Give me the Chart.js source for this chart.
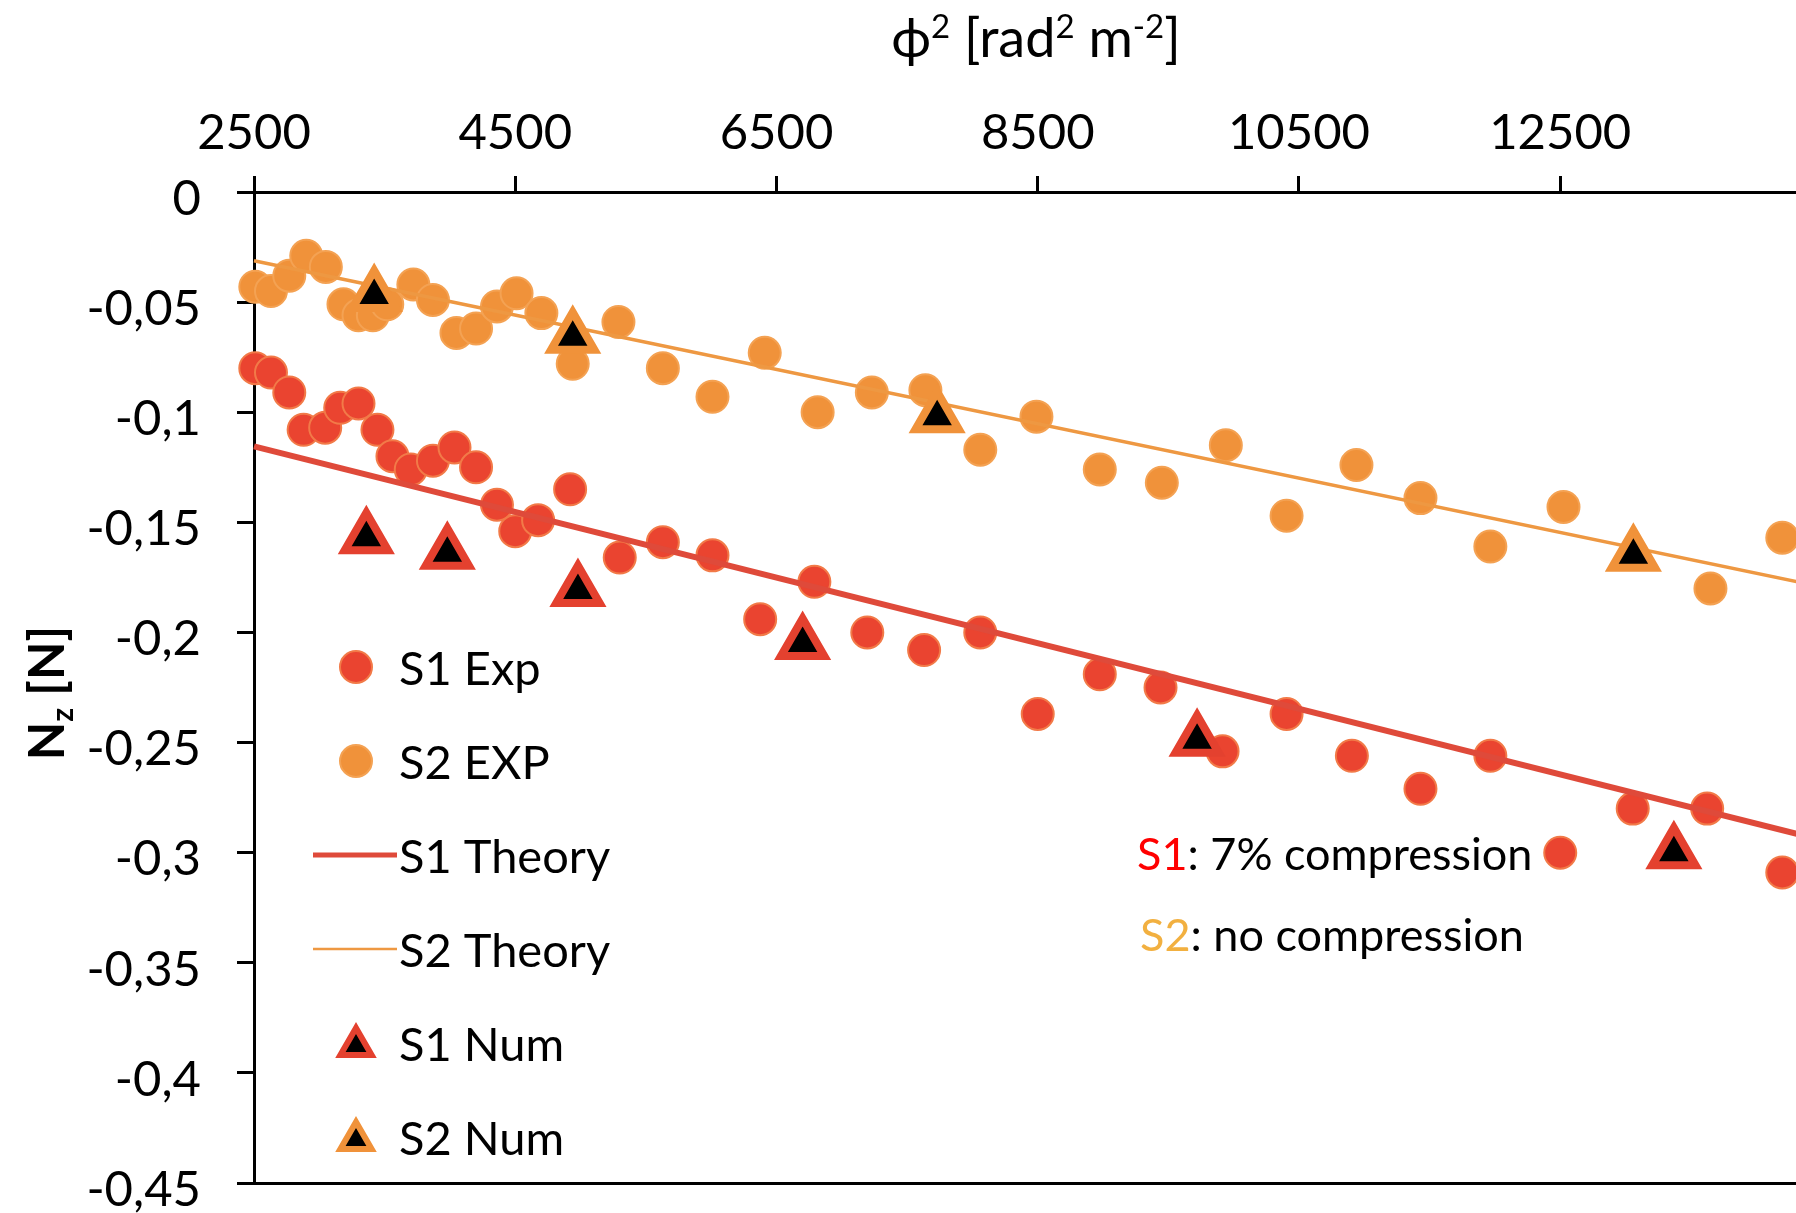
<!DOCTYPE html>
<html>
<head>
<meta charset="utf-8">
<script src="https://cdn.jsdelivr.net/npm/chart.js@4.4.1/dist/chart.umd.min.js"></script>
<style>
  html, body { margin: 0; padding: 0; background: #fff; overflow: hidden; }
</style>
</head>
<body>
<canvas id="grafico" width="1796" height="1213"></canvas>
<script>
// valori: phi^2 [rad^2 m^-2] e Nz [N]
var s1ExpX = [2510, 2630, 2770, 2880, 3045, 3160, 3300, 3445, 3560, 3700, 3870, 4035, 4200, 4360, 4500, 4675, 4920, 5300, 5630, 6010, 6375, 6790, 7195, 7630, 8060, 8500, 8975, 9440, 9915, 10405, 10905, 11430, 11965, 12500, 13055, 13625, 14200];
var s1ExpY = [-0.080, -0.082, -0.091, -0.108, -0.107, -0.098, -0.096, -0.108, -0.120, -0.126, -0.122, -0.116, -0.125, -0.142, -0.154, -0.149, -0.135, -0.166, -0.159, -0.165, -0.194, -0.177, -0.200, -0.208, -0.200, -0.237, -0.219, -0.225, -0.254, -0.237, -0.256, -0.271, -0.256, -0.300, -0.280, -0.280, -0.309];

var s2ExpX = [2510, 2630, 2770, 2900, 3050, 3185, 3300, 3410, 3520, 3720, 3870, 4050, 4200, 4360, 4510, 4700, 4940, 5290, 5630, 6010, 6410, 6815, 7230, 7640, 8060, 8490, 8975, 9450, 9940, 10405, 10940, 11430, 11965, 12525, 13650, 14200];
var s2ExpY = [-0.043, -0.045, -0.038, -0.029, -0.034, -0.051, -0.056, -0.056, -0.051, -0.042, -0.049, -0.064, -0.062, -0.052, -0.046, -0.055, -0.078, -0.059, -0.080, -0.093, -0.073, -0.100, -0.091, -0.090, -0.117, -0.102, -0.126, -0.132, -0.115, -0.147, -0.124, -0.139, -0.161, -0.143, -0.180, -0.157];

var theoryX = [2500, 14500];
var s1TheoryY = [-0.1155, -0.2943];
var s2TheoryY = [-0.0312, -0.1793];

var s1NumX = [3360, 3980, 4980, 6700, 9720, 13370];
var s1NumY = [-0.157, -0.164, -0.181, -0.205, -0.249, -0.300];
var s2NumX = [3420, 4940, 7730, 13060];
var s2NumY = [-0.047, -0.066, -0.102, -0.165];

var xTicks = [2500, 4500, 6500, 8500, 10500, 12500];
var yTicks = [0, -0.05, -0.1, -0.15, -0.2, -0.25, -0.3, -0.35, -0.4, -0.45];

var FONT = 'Lato, "Open Sans", sans-serif';

function punti(xs, ys) {
  return xs.map(function(x, i) { return {x: x, y: ys[i]}; });
}

// legenda dentro il grafico, titoli assi e nota S1/S2
var extraPlugin = {
  id: 'extra',
  afterDraw: function(chart) {
    var ctx = chart.ctx;
    var ds = chart.data.datasets;
    ctx.save();
    ctx.textBaseline = 'middle';
    ctx.textAlign = 'left';

    // legenda
    var lx = 356, tx = 399, y0 = 667, step = 94;
    for (var i = 0; i < ds.length; i++) {
      var d = ds[i];
      var y = y0 + i * step;
      if (d.type === 'line') {
        ctx.strokeStyle = d.borderColor;
        ctx.lineWidth = d.borderWidth - 1;
        ctx.beginPath();
        ctx.moveTo(313, y);
        ctx.lineTo(397, y);
        ctx.stroke();
      } else {
        var tri = d.pointStyle === 'triangle';
        ctx.fillStyle = d.backgroundColor;
        ctx.strokeStyle = d.borderColor;
        ctx.lineWidth = tri ? 6 : d.borderWidth;
        Chart.helpers.drawPoint(ctx, {
          pointStyle: d.pointStyle || 'circle',
          radius: tri ? 18 : d.pointRadius,
          rotation: 0,
          borderWidth: tri ? 6 : d.borderWidth
        }, lx, tri ? y + 3 : y);
      }
      ctx.fillStyle = '#000';
      ctx.font = '47px ' + FONT;
      ctx.fillText(d.label, tx, y + 3);
    }

    // nota compressione
    ctx.font = '45px ' + FONT;
    var nx = 1137;
    ctx.fillStyle = '#ff0000';
    ctx.fillText('S1', nx, 855);
    ctx.fillStyle = '#000';
    ctx.fillText(': 7% compression', nx + ctx.measureText('S1').width, 855);
    ctx.fillStyle = '#f2b040';
    ctx.fillText('S2', nx + 3, 936);
    ctx.fillStyle = '#000';
    ctx.fillText(': no compression', nx + 3 + ctx.measureText('S2').width, 936);

    // titolo asse x: phi^2 [rad^2 m^-2]
    var parti = [['\u03D5', 0], ['2', 1], [' [rad', 0], ['2', 1], [' m', 0], ['-2', 1], [']', 0]];
    var big = '54px ' + FONT, small = '33px ' + FONT;
    var w = 0;
    parti.forEach(function(p) { ctx.font = p[1] ? small : big; w += ctx.measureText(p[0]).width; });
    var cx = 1036 - w / 2, base = 57;
    ctx.textBaseline = 'alphabetic';
    ctx.fillStyle = '#000';
    parti.forEach(function(p) {
      ctx.font = p[1] ? small : big;
      ctx.fillText(p[0], cx, p[1] ? base - 19 : base);
      cx += ctx.measureText(p[0]).width;
    });

    // titolo asse y: Nz [N]
    ctx.translate(64, 693);
    ctx.rotate(-Math.PI / 2);
    var yparti = [['N', 0], ['z', 1], [' [N]', 0]];
    var bigB = 'bold 50px ' + FONT, smallB = 'bold 30px ' + FONT;
    w = 0;
    yparti.forEach(function(p) { ctx.font = p[1] ? smallB : bigB; w += ctx.measureText(p[0]).width; });
    cx = -w / 2;
    yparti.forEach(function(p) {
      ctx.font = p[1] ? smallB : bigB;
      ctx.fillText(p[0], cx, p[1] ? 9 : 0);
      cx += ctx.measureText(p[0]).width;
    });
    ctx.restore();
  }
};

var ctx = document.getElementById('grafico');
var chart = new Chart(ctx, {
  type: 'scatter',
  data: {
    datasets: [{
      label: 'S1 Exp',
      data: punti(s1ExpX, s1ExpY),
      backgroundColor: '#ea4430',
      borderColor: '#f27a48',
      borderWidth: 2,
      pointRadius: 16,
      clip: false,
      order: 6
    }, {
      label: 'S2 EXP',
      data: punti(s2ExpX, s2ExpY),
      backgroundColor: '#f0923a',
      borderColor: '#f4a253',
      borderWidth: 2,
      pointRadius: 16,
      clip: false,
      order: 5
    }, {
      label: 'S1 Theory',
      type: 'line',
      data: punti(theoryX, s1TheoryY),
      borderColor: '#df4a3a',
      borderWidth: 6,
      pointRadius: 0,
      fill: false,
      clip: false,
      order: 4
    }, {
      label: 'S2 Theory',
      type: 'line',
      data: punti(theoryX, s2TheoryY),
      borderColor: '#ee9842',
      borderWidth: 3.5,
      pointRadius: 0,
      fill: false,
      clip: false,
      order: 3
    }, {
      label: 'S1 Num',
      data: punti(s1NumX, s1NumY),
      pointStyle: 'triangle',
      backgroundColor: '#000',
      borderColor: '#e4412f',
      borderWidth: 8,
      pointRadius: 25,
      clip: false,
      order: 2
    }, {
      label: 'S2 Num',
      data: punti(s2NumX, s2NumY),
      pointStyle: 'triangle',
      backgroundColor: '#000',
      borderColor: '#f0923a',
      borderWidth: 8,
      pointRadius: 25,
      clip: false,
      order: 1
    }]
  },
  options: {
    responsive: false,
    animation: false,
    devicePixelRatio: 1,
    layout: { autoPadding: false, padding: { top: 0, left: 0, right: 0, bottom: 30 } },
    plugins: { legend: { display: false }, tooltip: { enabled: false } },
    scales: {
      x: {
        type: 'linear',
        position: 'top',
        min: 2500,
        max: 14305,
        afterBuildTicks: function(s) { s.ticks = xTicks.map(function(v) { return {value: v}; }); },
        afterFit: function(s) { s.height = 192; s.paddingLeft = 0; s.paddingRight = 0; },
        ticks: {
          font: { family: FONT, size: 49 },
          color: '#000',
          padding: 13,
          maxRotation: 0,
          autoSkip: false,
          callback: function(v) { return String(v); }
        },
        grid: { drawOnChartArea: false, tickLength: 16, tickWidth: 3, tickColor: '#000' },
        border: { display: true, color: '#000', width: 3 }
      },
      x2: {
        type: 'linear',
        position: 'bottom',
        display: true,
        min: 2500,
        max: 14305,
        afterFit: function(s) { s.height = 0; s.paddingLeft = 0; s.paddingRight = 0; },
        ticks: { display: false },
        grid: { display: false },
        border: { display: true, color: '#000', width: 3 }
      },
      y: {
        type: 'linear',
        min: -0.45,
        max: 0,
        afterBuildTicks: function(s) { s.ticks = yTicks.map(function(v) { return {value: v}; }); },
        afterFit: function(s) { s.width = 254; s.paddingTop = 0; s.paddingBottom = 0; },
        ticks: {
          font: { family: FONT, size: 49 },
          color: '#000',
          padding: 36,
          labelOffset: 7,
          autoSkip: false,
          callback: function(v) { return v === 0 ? '0' : String(v).replace('.', ','); }
        },
        grid: { drawOnChartArea: false, tickLength: 17, tickWidth: 3, tickColor: '#000' },
        border: { display: true, color: '#000', width: 3 }
      }
    }
  },
  plugins: [extraPlugin]
});
</script>
</body>
</html>
